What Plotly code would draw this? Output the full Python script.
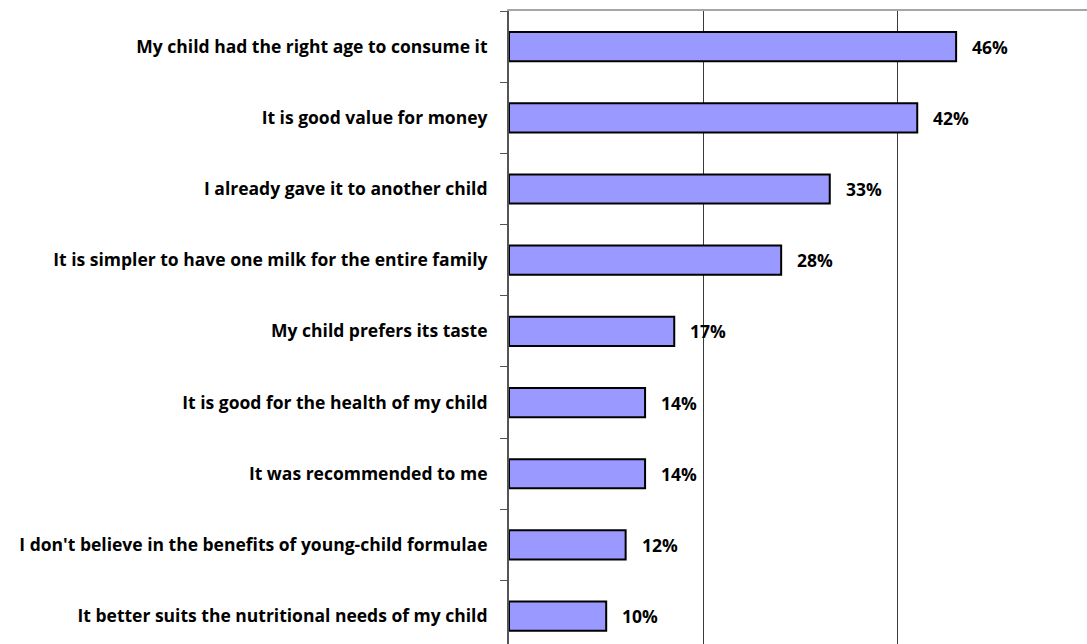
import plotly.graph_objects as go

# Reasons for choosing the milk, share of respondents (%)
reasons = [
    "My child had the right age to consume it",
    "It is good value for money",
    "I already gave it to another child",
    "It is simpler to have one milk for the entire family",
    "My child prefers its taste",
    "It is good for the health of my child",
    "It was recommended to me",
    "I don't believe in the benefits of young-child formulae",
    "It better suits the nutritional needs of my child",
]
shares = [46, 42, 33, 28, 17, 14, 14, 12, 10]
share_labels = ["46%", "42%", "33%", "28%", "17%", "14%", "14%", "12%", "10%"]

FONT = "Open Sans"
FSIZE = 17.5
W, H = 1087, 644
LEFT, TOP = 509, 10.5
PX_PER_CAT = 71.25
PX_PER_PCT = 9.72

fig = go.Figure(
    go.Bar(
        x=shares,
        y=reasons,
        orientation="h",
        width=0.41,
        marker=dict(color="#9999FF", line=dict(color="#000000", width=2)),
        hoverinfo="skip",
    )
)

for r, v, t in zip(reasons, shares, share_labels):
    fig.add_annotation(
        x=v, y=r, text=t, showarrow=False, xanchor="left", yanchor="middle",
        xshift=14, font=dict(family=FONT, size=FSIZE, color="#000000", weight="bold"),
    )

plot_h = H - TOP
plot_w = W - LEFT
fig.update_layout(
    width=W, height=H,
    margin=dict(l=LEFT, r=0, t=TOP, b=0, pad=0),
    paper_bgcolor="white", plot_bgcolor="white",
    showlegend=False,
    xaxis=dict(
        range=[0, plot_w / PX_PER_PCT],
        dtick=20, tick0=0,
        showgrid=True, gridcolor="#3a3a3a", gridwidth=1,
        zeroline=False, showticklabels=False, ticks="",
        side="top", showline=True, linecolor="#a6a6a6", linewidth=2,
        fixedrange=True,
    ),
    yaxis=dict(
        categoryorder="array", categoryarray=reasons,
        range=[-0.5 + plot_h / PX_PER_CAT, -0.5],
        showgrid=False, zeroline=False,
        showline=True, linecolor="#555555", linewidth=2,
        ticks="outside", ticklen=7, tickcolor="#555555", tickwidth=1,
        tickson="boundaries",
        ticklabelstandoff=16,
        tickfont=dict(family=FONT, size=FSIZE, color="#000000", weight="bold"),
        fixedrange=True,
    ),
)

fig.write_html("out.html", config={"displayModeBar": False})
